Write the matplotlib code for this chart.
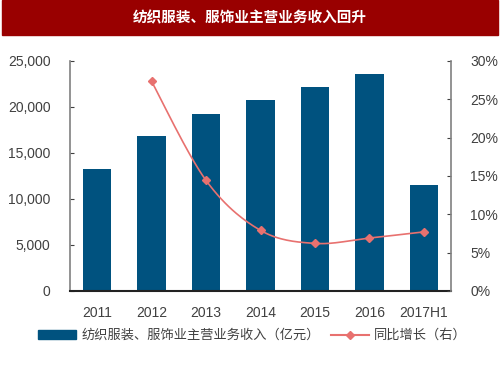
import numpy as np
import matplotlib
matplotlib.use("Agg")
import matplotlib.pyplot as plt
from matplotlib.lines import Line2D
from matplotlib.patches import Patch, Rectangle
from matplotlib.ticker import FuncFormatter

plt.rcParams['font.family'] = ['Liberation Sans', 'Noto Sans CJK SC', 'DejaVu Sans']

# data
years = ["2011", "2012", "2013", "2014", "2015", "2016", "2017H1"]
revenue = [13230, 16850, 19240, 20740, 22180, 23570, 11560]
growth_years = ["2012", "2013", "2014", "2015", "2016", "2017H1"]
growth = [27.3, 14.4, 7.9, 6.2, 6.9, 7.7]

title = "纺织服装、服饰业主营业务收入回升"
bar_label = "纺织服装、服饰业主营业务收入（亿元）"
line_label = "同比增长（右）"

BAR_COLOR = "#00527F"
LINE_COLOR = "#E8716F"
RED = "#990000"
GREY = "#808080"
TEXT = "#404040"


def smooth(x, y, n=30):
    """Catmull-Rom curve through the points, like a smoothed office line."""
    pts = np.column_stack([x, y]).astype(float)
    pts = np.vstack([pts[0], pts, pts[-1]])
    out = []
    for i in range(1, len(pts) - 2):
        p0, p1, p2, p3 = pts[i - 1], pts[i], pts[i + 1], pts[i + 2]
        t = np.linspace(0, 1, n)[:, None]
        seg = 0.5 * ((2 * p1) + (-p0 + p2) * t
                     + (2 * p0 - 5 * p1 + 4 * p2 - p3) * t ** 2
                     + (-p0 + 3 * p1 - 3 * p2 + p3) * t ** 3)
        out.append(seg)
    out = np.vstack(out)
    return out[:, 0], out[:, 1]


def main():
    fig = plt.figure(figsize=(5, 3.75), dpi=100)

    # title bar
    fig.patches.append(Rectangle((0.004, 0.907), 0.992, 0.093,
                                 transform=fig.transFigure, color=RED, zorder=0))
    fig.text(0.5, 0.953, title, color="white", fontsize=10.5, fontweight="bold",
             ha="center", va="center", family=['Noto Sans CJK SC', 'DejaVu Sans'])

    ax = fig.add_axes([0.14, 0.224, 0.762, 0.614])
    x = np.arange(len(years))
    ax.bar(x, revenue, width=0.52, color=BAR_COLOR, zorder=2)
    ax.set_xlim(-0.5, len(years) - 0.5)
    ax.set_ylim(0, 25000)
    ax.set_yticks(range(0, 25001, 5000))
    ax.yaxis.set_major_formatter(FuncFormatter(lambda v, p: f"{int(v):,}"))
    ax.set_xticks(x)
    ax.set_xticklabels(years)
    ax.tick_params(axis="y", direction="in", length=3, color=TEXT,
                   labelsize=10, labelcolor=TEXT, pad=14)
    ax.tick_params(axis="x", length=0, labelsize=10, labelcolor=TEXT, pad=11)
    for side in ["top", "right"]:
        ax.spines[side].set_visible(False)
    ax.spines["left"].set_color(GREY)
    ax.spines["left"].set_linewidth(1.2)
    ax.spines["bottom"].set_color("#222222")
    ax.spines["bottom"].set_linewidth(1.5)
    ax.spines["bottom"].set_zorder(5)

    ax2 = ax.twinx()
    gx = np.array([years.index(y) for y in growth_years])
    sx, sy = smooth(gx, growth)
    ax2.plot(sx, sy, color=LINE_COLOR, lw=1.2, zorder=3)
    ax2.plot(gx, growth, ls="none", marker="D", ms=4.5, color=LINE_COLOR, zorder=4)
    ax2.set_ylim(0, 30)
    ax2.set_yticks(range(0, 31, 5))
    ax2.yaxis.set_major_formatter(FuncFormatter(lambda v, p: f"{int(v)}%"))
    ax2.tick_params(axis="y", direction="in", length=3, color=TEXT,
                    labelsize=10, labelcolor=TEXT, pad=14)
    for side in ["top", "left", "bottom"]:
        ax2.spines[side].set_visible(False)
    ax2.spines["right"].set_color(GREY)
    ax2.spines["right"].set_linewidth(1.2)

    handles = [Patch(color=BAR_COLOR, label=bar_label),
               Line2D([0], [0], color=LINE_COLOR, marker="D", ms=4, lw=1.5,
                      label=line_label)]
    fig.legend(handles=handles, loc="center", bbox_to_anchor=(0.505, 0.105),
               ncol=2, frameon=False, handlelength=2.9, handletextpad=0.4,
               columnspacing=0.8,
               prop={"family": ['Noto Sans CJK SC', 'DejaVu Sans'], "size": 9.5},
               labelcolor=TEXT)

    fig.savefig("out.png", dpi=100)


if __name__ == "__main__":
    main()
